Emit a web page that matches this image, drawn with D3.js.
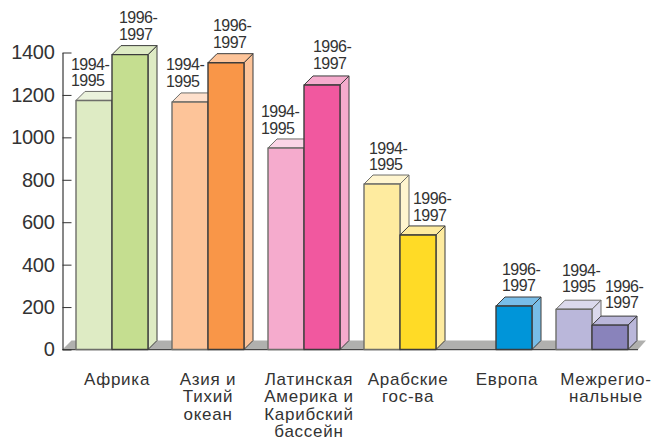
<!DOCTYPE html>
<html><head><meta charset="utf-8">
<script src="https://cdn.jsdelivr.net/npm/d3@7/dist/d3.min.js"></script>
<style>html,body{margin:0;background:#fff}svg{display:block}text{font-family:"Liberation Sans",Arial,sans-serif;fill:#333}</style>
</head><body><svg id="c" width="652" height="441"></svg>
<script>
const categories=["Африка","Азия и|Тихий|океан","Латинская|Америка и|Карибский|бассейн","Арабские|гос-ва","Европа","Межрегио-|нальные"];
const periods=["1994-1995","1996-1997"];
const values1994=[1174,1167,950,780,null,190];
const values1996=[1390,1352,1247,540,205,115];
const yTicks=[0,200,400,600,800,1000,1200,1400];
const frontLight=["#deebc4","#fdc499","#f5abcd","#feeb9f","#78bde8","#bab7da"];
const frontDark=["#c5de90","#f99648","#f1589f","#ffdb26","#0095d9","#8983bb"];
const topLight=["#ebf2dc","#fee0cc","#fad5e6","#fff5cf","#78bde8","#dbd9ec"];
const labelNudge94=[-5,-6,-7,5,0,6];
const labelNudge96=[7,5,9,13,6,13];
const labelLift94=[14,15,14,14,0,17];
const labelLift96=[14.7,15,16,14,15,17];
const catNudge=[5,0,5,8,11,14];

const svg=d3.select("#c");
const y=d3.scaleLinear().domain([0,1400]).range([349.5,52.5]);
const x=d3.scaleBand().domain(categories).range([76,628]).paddingInner(0.25);
const xi=d3.scaleBand().domain(periods).range([0,x.bandwidth()]);
const depth=9, x0=62.5;

svg.append("path")
 .attr("d",`M${x0},${y(0)}L${x0+depth},${y(0)-depth}H646L638,${y(0)}Z`)
 .attr("fill","#b0b0ae");
svg.append("path").attr("d",`M${x0},${y(0)+1}H638`).attr("stroke","#d4d4d4").attr("stroke-width",1);
svg.append("path").attr("d",`M${x0},${y(0)}H638`).attr("stroke","#222").attr("stroke-width",.8);

const axis=d3.axisLeft(y).tickValues(yTicks).tickSizeInner(-9).tickSizeOuter(0).tickPadding(8).tickFormat(d3.format("d"));
const g=svg.append("g").attr("transform",`translate(${x0},0)`).call(axis);
g.selectAll("path.domain").attr("stroke","#111").attr("stroke-width",1);
g.selectAll(".tick line").attr("stroke","#333").attr("stroke-width",1);
g.selectAll("text").attr("font-size",20).attr("letter-spacing",-0.3).style("font-family",'"Liberation Sans",Arial,sans-serif').attr("fill","#333");

const marks=[];
categories.forEach((c,i)=>{
 if(values1994[i]!=null)marks.push({c,i,p:periods[0],v:values1994[i],front:frontLight[i],top:topLight[i],side:topLight[i],stroke:"#6e6e6a",nudge:labelNudge94[i],lift:labelLift94[i]});
 marks.push({c,i,p:periods[1],v:values1996[i],front:frontDark[i],top:frontLight[i],side:frontLight[i],stroke:"#3c3c3c",nudge:labelNudge96[i],lift:labelLift96[i]});
});
const bw=xi.bandwidth();
const bar=svg.selectAll("g.bar").data(marks).join("g").attr("class","bar")
 .attr("stroke-linejoin","round");
const L=d=>x(d.c)+xi(d.p), T=d=>y(d.v);
bar.append("path").attr("fill",d=>d.side).attr("stroke",d=>d.stroke).attr("stroke-width",1)
 .attr("d",d=>`M${L(d)+bw},${T(d)}l${depth},${-depth}V${y(0)-depth}L${L(d)+bw},${y(0)}Z`);
bar.append("path").attr("fill",d=>d.top).attr("stroke",d=>d.stroke).attr("stroke-width",1)
 .attr("d",d=>`M${L(d)},${T(d)}l${depth},${-depth}h${bw}l${-depth},${depth}Z`);
bar.append("rect").attr("x",L).attr("y",T).attr("width",bw).attr("height",d=>y(0)-T(d))
 .attr("fill",d=>d.front).attr("stroke",d=>d.stroke).attr("stroke-width",1.4);

const yearLabel=svg.append("g").attr("font-size",16).attr("letter-spacing",-0.55);
marks.forEach(d=>{
 const [a,b]=d.p.split("-");
 const t=yearLabel.append("text");
 t.append("tspan").attr("x",L(d)+d.nudge).attr("y",T(d)-d.lift-16.5).text(a+"-");
 t.append("tspan").attr("x",L(d)+d.nudge).attr("y",T(d)-d.lift).text(b);
});

const catG=svg.append("g").attr("font-size",17).attr("letter-spacing",0.75).attr("text-anchor","middle");
categories.forEach((c,i)=>{
 const t=catG.append("text");
 const cx=x(c)+x.bandwidth()/2+catNudge[i];
 c.split("|").forEach((ln,k)=>t.append("tspan").attr("x",cx).attr("y",384.5+k*17.5).text(ln));
});
</script></body></html>
